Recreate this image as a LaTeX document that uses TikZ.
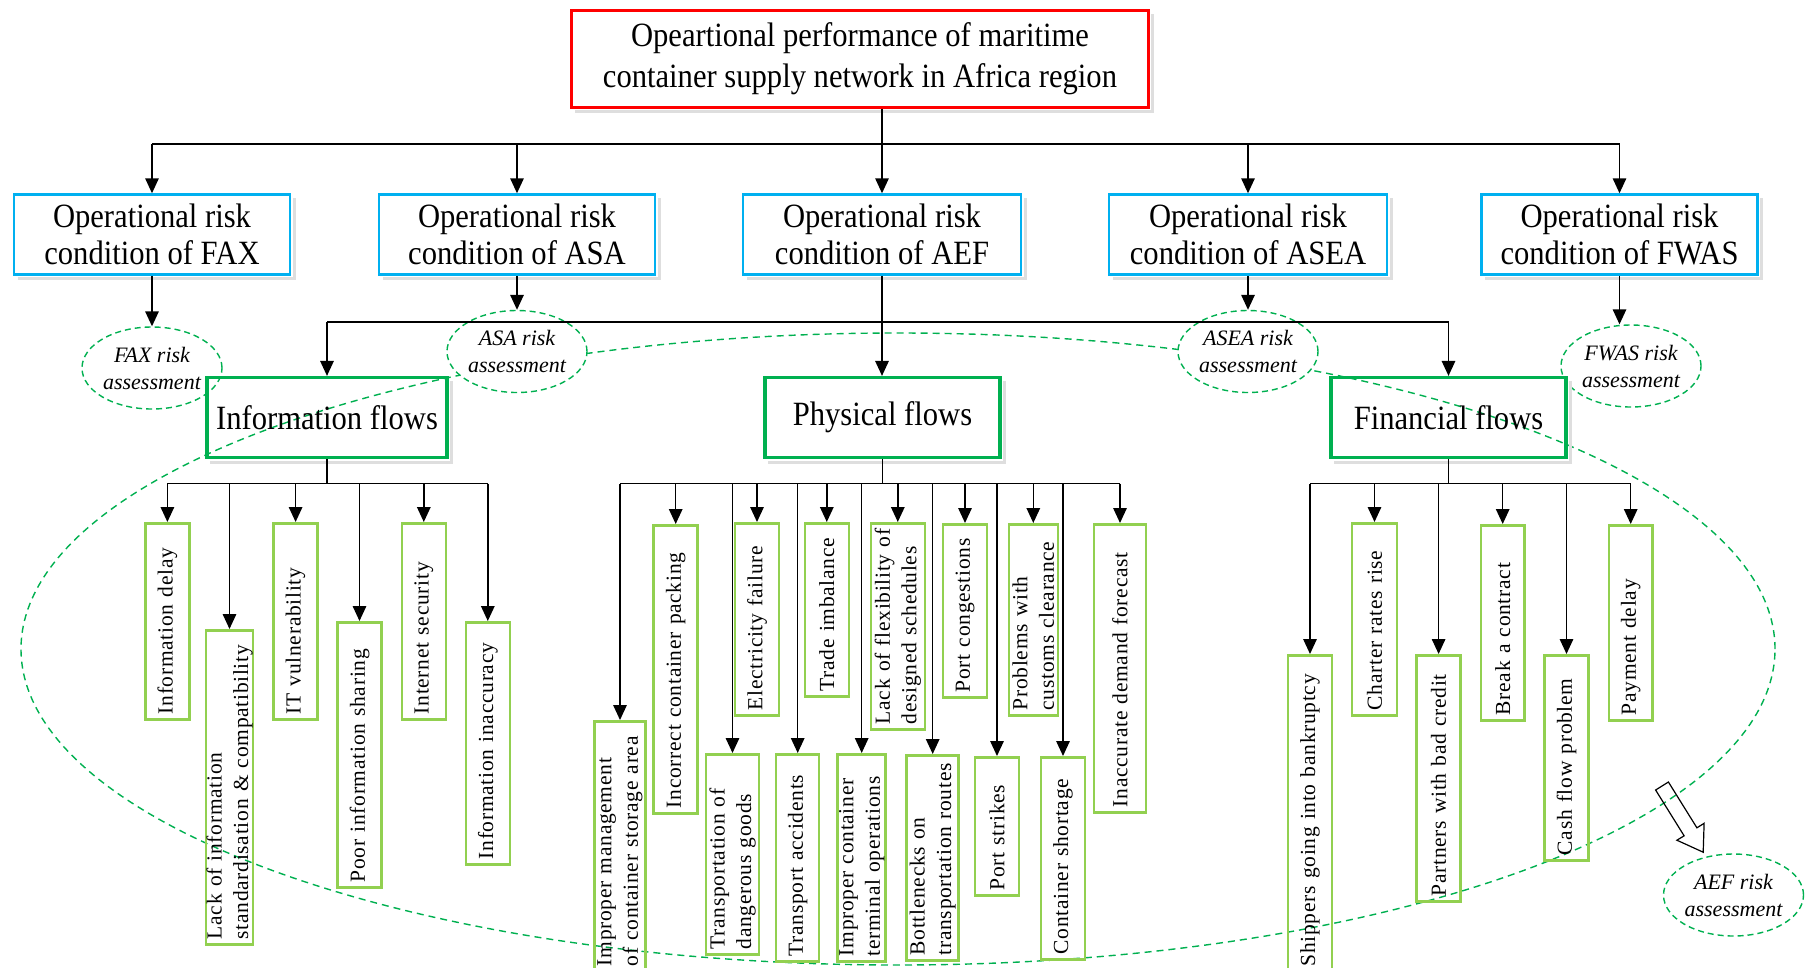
\documentclass[tikz,border=0pt]{standalone}
\usepackage{fontspec}
\setmainfont{Liberation Serif}
\newfontfamily\headfont[FakeStretch=0.9]{Liberation Serif}
\newfontfamily\leaffont[LetterSpace=3.3]{Liberation Serif}
\usetikzlibrary{arrows.meta,calc,shapes.geometric}

\definecolor{topred}{RGB}{255,0,0}
\definecolor{condblue}{RGB}{0,176,240}
\definecolor{flowgreen}{RGB}{0,176,80}
\definecolor{leafgreen}{RGB}{146,208,80}
\definecolor{shadowgray}{RGB}{222,222,222}

% one leaf box: name, centre x, top y, bottom y, thickness, text
\newcommand\leafbox[6]{%
  \pgfmathsetmacro\leaflen{#4-#3}%
  \pgfmathsetmacro\leaftw{#4-#3-10}%
  \node[leaf, minimum width=\leaflen pt, minimum height=#5pt,
        text width=\leaftw pt] (#1) at (#2,#3) {#6};}

\begin{document}
\begin{tikzpicture}[x=1pt,y=-1pt,
  link/.style={draw=black, line width=1.5pt},
  arr/.style={link, -{Triangle[length=15pt,width=13.5pt]}},
  topbox/.style={draw=topred, line width=2.8pt, minimum width=577pt,
    minimum height=97pt, align=center, inner sep=0pt,
    font=\headfont\fontsize{34}{41}\selectfont},
  condbox/.style={draw=condblue, line width=2.5pt, minimum width=276pt,
    minimum height=80pt, align=center, inner sep=0pt,
    font=\headfont\fontsize{34}{36.5}\selectfont},
  flowbox/.style={draw=flowgreen, line width=3.2pt, minimum height=80pt,
    inner sep=0pt, font=\headfont\fontsize{34}{36.5}\selectfont},
  risk/.style={ellipse, draw=flowgreen, dash pattern=on 6pt off 4pt,
    line width=1.4pt, fill=white, minimum width=140pt, minimum height=82pt,
    inner sep=0pt, align=center, font=\itshape\fontsize{22}{27}\selectfont},
  ring/.style={draw=flowgreen, dash pattern=on 7pt off 5pt, line width=1.4pt},
  leaf/.style={draw=leafgreen, line width=2.5pt, rotate=90, anchor=east,
    inner xsep=5pt, inner ysep=0pt, align=left,
    font=\leaffont\fontsize{21.5}{26.5}\selectfont},
  shadowline/.style={draw=shadowgray, line width=3pt}]

\clip (0,0) rectangle (1805,967);
\useasboundingbox (0,0) rectangle (1805,967);

% large dashed region around the three flow branches
\draw[ring] (898,649) ellipse [x radius=877pt, y radius=316pt];

% root and regional conditions
\node[topbox] (top) at (860,59)
  {Opeartional performance of maritime\\container supply network in Africa region};
\node[condbox] (fax)  at (152,234.5)  {Operational risk\\condition of FAX};
\node[condbox] (asa)  at (517,234.5)  {Operational risk\\condition of ASA};
\node[condbox, minimum width=278pt] (aef)  at (882,234.5)  {Operational risk\\condition of AEF};
\node[condbox, minimum width=278pt] (asea) at (1248,234.5) {Operational risk\\condition of ASEA};
\node[condbox] (fwas) at (1619.5,234.5) {Operational risk\\condition of FWAS};

% flow categories
\node[flowbox, minimum width=240pt] (info) at (327,417.5)   {Information flows};
\node[flowbox, minimum width=235pt] (phys) at (882.5,417.5) {Physical flows};
\node[flowbox, minimum width=235pt] (fin)  at (1448.5,417.5) {Financial flows};

% risk assessments
\node[risk, fill=none] (faxr)  at (152,368)     {FAX risk\\assessment};
\node[risk]            (asar)  at (517,351.5)   {ASA risk\\assessment};
\node[risk]            (asear) at (1248,351.5)  {ASEA risk\\assessment};
\node[risk, fill=none] (fwasr) at (1631,366)    {FWAS risk\\assessment};
\node[risk, fill=none] (aefr)  at (1733.5,895)  {AEF risk\\assessment};

% information flow risks
\leafbox{i1}{167.4}{522}{718}{44}{Information delay}
\leafbox{i2}{229.5}{629}{943}{47}{Lack of information\\standardisation \& compatibility}
\leafbox{i3}{295.6}{522}{718}{44}{IT vulnerability}
\leafbox{i4}{359.5}{621}{886}{44}{Poor information sharing}
\leafbox{i5}{423.8}{522}{718}{44}{Internet security}
\leafbox{i6}{487.8}{621}{863}{44}{Information inaccuracy}

% physical flow risks
\leafbox{p1}{620}{720}{970}{51}{Improper management\\of container storage area}
\leafbox{p2}{675.7}{524}{812}{44}{Incorrect container packing}
\leafbox{p3}{732.5}{753}{953}{53}{Transportation of\\dangerous goods}
\leafbox{p4}{757}{522}{714}{44}{Electricity failure}
\leafbox{p5}{797.7}{753}{960}{43}{Transport accidents}
\leafbox{p6}{826.8}{522}{695}{44}{Trade imbalance}
\leafbox{p7}{861.7}{753}{960}{48}{Improper container\\terminal operations}
\leafbox{p8}{897.8}{522}{728}{54}{Lack of flexibility of\\designed schedules}
\leafbox{p9}{932.7}{754}{959}{52}{Bottlenecks on\\transportation routes}
\leafbox{p10}{965}{523}{696}{44}{Port congestions}
\leafbox{p11}{997}{756}{894}{44}{Port strikes}
\leafbox{p12}{1033.3}{523}{714}{49}{Problems with\\customs clearance}
\leafbox{p13}{1063}{756}{958}{44}{Container shortage}
\leafbox{p14}{1120}{523}{811}{52}{Inaccurate demand forecast}

% financial flow risks
\leafbox{f1}{1310}{654}{970}{44}{Shippers going into bankruptcy}
\leafbox{f2}{1374.5}{522}{714}{45}{Charter rates rise}
\leafbox{f3}{1438.6}{654}{900}{44}{Partners with bad credit}
\leafbox{f4}{1502.7}{524}{719}{43.5}{Break a contract}
\leafbox{f5}{1566.5}{654}{859}{44}{Cash flow problem}
\leafbox{f6}{1630.7}{524}{719}{43.5}{Payment delay}

% soft shadows on the main boxes
\foreach \n in {top,fax,asa,aef,asea,fwas,info,phys,fin}
  \draw[shadowline] ($(\n.south west)+(5pt,-3pt)$) -- ($(\n.south east)+(3pt,-3pt)$)
                    -- ($(\n.north east)+(3pt,-5pt)$);

% root to regional conditions
\coordinate (bus0) at (0,144);
\draw[link] (top.south -| aef.north) -- (aef.north |- bus0);
\draw[link] (fax.north |- bus0) -- (fwas.north |- bus0);
\foreach \n in {fax,asa,aef,asea,fwas}
  \draw[arr] (\n.north |- bus0) -- (\n.north);

% regional conditions to assessments
\foreach \c/\r in {fax/faxr,asa/asar,asea/asear,fwas/fwasr}
  \draw[arr] (\c.south) -- (\c.south |- \r.north);

% AEF condition to the three flows
\coordinate (bus1) at (0,322);
\draw[link] (info.north |- bus1) -- (fin.north |- bus1);
\draw[arr] (aef.south) -- (aef.south |- phys.north);
\draw[arr] (info.north |- bus1) -- (info.north);
\draw[arr] (fin.north |- bus1) -- (fin.north);

% flows to their risks
\coordinate (bus2) at (0,483.5);
\draw[link] (info.south) -- (info.south |- bus2);
\draw[link] (i1.east |- bus2) -- (i6.east |- bus2);
\foreach \n in {i1,i2,i3,i4,i5,i6}
  \draw[arr] (\n.east |- bus2) -- (\n.east);

\draw[link] (phys.south) -- (phys.south |- bus2);
\draw[link] (p1.east |- bus2) -- (p14.east |- bus2);
\foreach \n in {p1,p2,p3,p4,p5,p6,p7,p8,p9,p10,p11,p12,p13,p14}
  \draw[arr] (\n.east |- bus2) -- (\n.east);

\draw[link] (fin.south) -- (fin.south |- bus2);
\draw[link] (f1.east |- bus2) -- (f6.east |- bus2);
\foreach \n in {f1,f2,f3,f4,f5,f6}
  \draw[arr] (\n.east |- bus2) -- (\n.east);

% hollow block arrow toward the AEF assessment
\draw[line width=1.2pt, line join=miter]
  (1655.6,790) -- (1684.1,835.8) -- (1676.9,840.2) -- (1703.2,852.2)
  -- (1704.1,823.3) -- (1696.9,827.8) -- (1668.4,782) -- cycle;
\end{tikzpicture}
\end{document}
